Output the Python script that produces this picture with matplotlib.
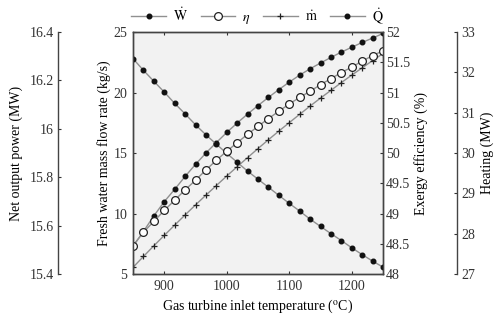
import matplotlib
matplotlib.use("Agg")
import matplotlib.pyplot as plt

plt.rcParams['font.family'] = ['Liberation Serif', 'DejaVu Serif']
plt.rcParams['mathtext.fontset'] = 'stix'
plt.rcParams['font.size'] = 10

# gas turbine inlet temperature (oC)
tit = [850, 866.7, 883.3, 900, 916.7, 933.3, 950, 966.7, 983.3, 1000,
       1016.7, 1033.3, 1050, 1066.7, 1083.3, 1100, 1116.7, 1133.3, 1150,
       1166.7, 1183.3, 1200, 1216.7, 1233.3, 1250]

# net output power (MW)
power = [15.514, 15.576, 15.640, 15.699, 15.750, 15.803, 15.853, 15.900,
         15.943, 15.985, 16.024, 16.061, 16.096, 16.130, 16.162, 16.193,
         16.222, 16.248, 16.272, 16.295, 16.317, 16.337, 16.357, 16.375, 16.394]

# exergy efficiency (%)
eta = [48.47, 48.69, 48.87, 49.05, 49.22, 49.39, 49.55, 49.72, 49.88, 50.03,
       50.17, 50.31, 50.44, 50.57, 50.69, 50.81, 50.92, 51.02, 51.13, 51.23,
       51.33, 51.42, 51.52, 51.61, 51.69]

# fresh water mass flow rate (kg/s)
fresh = [5.55, 6.45, 7.33, 8.19, 9.04, 9.88, 10.71, 11.52, 12.31, 13.10,
         13.87, 14.62, 15.37, 16.10, 16.81, 17.51, 18.20, 18.88, 19.54, 20.18,
         20.82, 21.44, 22.04, 22.64, 23.22]

# heating (MW)
heating = [32.34, 32.05, 31.78, 31.51, 31.23, 30.97, 30.70, 30.45, 30.22, 29.99,
           29.77, 29.55, 29.35, 29.15, 28.95, 28.75, 28.56, 28.36, 28.18, 28.00,
           27.83, 27.65, 27.48, 27.32, 27.17]

line_col = '#909090'
spine_col = '#444444'

fig = plt.figure(figsize=(4.95, 3.24), dpi=100)
ax = fig.add_axes([0.2687, 0.1543, 0.5051, 0.7469])
ax.set_facecolor('#f2f2f2')

ax_w = ax.twinx()
ax_q = ax.twinx()
ax_eta = ax.twinx()

l_m, = ax.plot(tit, fresh, color=line_col, lw=1, marker='+', ms=5,
               mec='#222222', mew=0.9, label=r'$\dot{\mathrm{m}}$')
l_w, = ax_w.plot(tit, power, color=line_col, lw=1, marker='o', ms=3.3,
                 mfc='#111111', mec='#111111', label=r'$\dot{\mathrm{W}}$')
l_q, = ax_q.plot(tit, heating, color=line_col, lw=1, marker='o', ms=3.3,
                 mfc='#111111', mec='#111111', label=r'$\dot{\mathrm{Q}}$')
l_e, = ax_eta.plot(tit, eta, color=line_col, lw=1, marker='o', ms=5.6,
                   mfc='white', mec='#222222', mew=0.9, label=r'$\eta$')

ax.set_xlim(850, 1250)
ax.set_xticks([900, 1000, 1100, 1200])
ax.set_ylim(5, 25)
ax.set_yticks([5, 10, 15, 20, 25])
ax.set_xlabel(r'Gas turbine inlet temperature ($^{\mathrm{o}}$C)', labelpad=4)
ax.set_ylabel('Fresh water mass flow rate (kg/s)', labelpad=2)
ax.tick_params(direction='in', top=True, length=2.5, colors='#333333', pad=4)

ax_eta.set_ylim(48, 52)
ax_eta.set_yticks([48, 48.5, 49, 49.5, 50, 50.5, 51, 51.5, 52])
ax_eta.set_yticklabels(['48', '48.5', '49', '49.5', '50', '50.5', '51', '51.5', '52'])
ax_eta.set_ylabel('Exergy efficiency (%)', labelpad=3)
ax_eta.tick_params(direction='in', length=2.5, colors='#333333', pad=2)

ax_w.set_ylim(15.4, 16.4)
ax_w.set_yticks([15.4, 15.6, 15.8, 16.0, 16.2, 16.4])
ax_w.set_yticklabels(['15.4', '15.6', '15.8', '16', '16.2', '16.4'])
ax_w.yaxis.set_ticks_position('left')
ax_w.yaxis.set_label_position('left')
ax_w.spines['left'].set_position(('axes', -0.30))
ax_w.spines['left'].set_visible(True)
for s in ['right', 'top', 'bottom']:
    ax_w.spines[s].set_visible(False)
ax_w.set_ylabel('Net output power (MW)', labelpad=5)
ax_w.tick_params(direction='in', length=2.5, colors='#333333', pad=3)

ax_q.set_ylim(27, 33)
ax_q.set_yticks([27, 28, 29, 30, 31, 32, 33])
ax_q.spines['right'].set_position(('axes', 1.296))
for s in ['left', 'top', 'bottom']:
    ax_q.spines[s].set_visible(False)
ax_q.set_ylabel('Heating (MW)', labelpad=4)
ax_q.tick_params(direction='in', length=2.5, colors='#333333', pad=3)

for a in [ax, ax_w, ax_q, ax_eta]:
    for s in a.spines.values():
        s.set_color(spine_col)
        s.set_linewidth(1.0)

fig.legend([l_w, l_e, l_m, l_q], [l.get_label() for l in [l_w, l_e, l_m, l_q]],
           loc='upper center', bbox_to_anchor=(0.52, 1.02), ncol=4,
           frameon=False, handlelength=2.5, columnspacing=0.9,
           handletextpad=0.5, fontsize=10)

fig.savefig('out.png', dpi=100)
plt.close(fig)
